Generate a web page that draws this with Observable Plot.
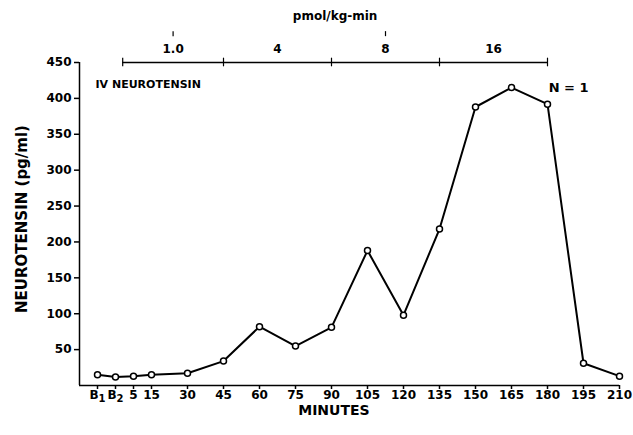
<!DOCTYPE html>
<html><head><meta charset="utf-8">
<script src="https://cdn.jsdelivr.net/npm/d3@7"></script>
<script src="https://cdn.jsdelivr.net/npm/@observablehq/plot@0.6"></script>
<style>body{margin:0;background:#fff}</style>
</head><body><div id="chart"></div>
<script>
const timeLabels = ["B₁","B₂","5","15","30","45","60","75","90","105","120","135","150","165","180","195","210"];
const timePos = [-7.5,0,7.5,15,30,45,60,75,90,105,120,135,150,165,180,195,210];
const neurotensin = [15,12,13,15,17,34,82,55,81,188,98,218,388,415,392,31,13];
const yTicks = [50,100,150,200,250,300,350,400,450];
const doseLabels = ["1.0","4","8","16"];
const doseStart = [3,45,90,135];
const doseEnd = [45,90,135,180];
const doseBounds = [3,45,90,135,180];
const markedDoses = ["1.0","8"];

const data = timePos.map((t,i)=>({t, v: neurotensin[i]}));
const mid = i => (doseStart[i]+doseEnd[i])/2;

const plot = Plot.plot({
  width:633, height:435,
  marginLeft:79, marginRight:14, marginTop:62, marginBottom:50,
  style:{fontFamily:"'DejaVu Sans'", fontWeight:"bold", fontSize:"12px", background:"white", color:"black", overflow:"visible"},
  x:{domain:[-15,210]},
  y:{domain:[0,450]},
  marks:[
    Plot.axisX({ticks: timePos, tickFormat: d => timeLabels[timePos.indexOf(d)], tickSize:4, tickPadding:1, label:null, fontSize:12, strokeWidth:1.5}),
    Plot.axisY({ticks: yTicks, tickSize:5, tickPadding:3, label:null, fontSize:12, strokeWidth:1.5}),
    Plot.ruleY([0], {strokeWidth:1.5}),
    Plot.ruleX([-15], {y1:0, y2:450, strokeWidth:1.5}),
    Plot.text(["MINUTES"], {x:91, frameAnchor:"bottom", lineAnchor:"middle", dy:25, fontSize:14}),
    Plot.text(["NEUROTENSIN (pg/ml)"], {frameAnchor:"left", textAnchor:"middle", lineAnchor:"middle", rotate:-90, dx:-57, dy:-5, fontSize:15}),
    // dose bar
    Plot.ruleY(doseStart, {x1: d=>d, x2: (d,i)=>doseEnd[i], y: 450, strokeWidth:1.5}),
    Plot.ruleX(doseBounds, {x: d=>d, y1: 444, y2: 456, strokeWidth:1.2}),
    Plot.text(doseLabels, {x: (d,i)=>mid(i), y: 450, dy:-13, fontSize:12}),
    Plot.ruleX(markedDoses, {x: d=>mid(doseLabels.indexOf(d)), y1: 486, y2: 493, strokeWidth:1.2}),
    Plot.text(["pmol/kg-min"], {x:91.5, frameAnchor:"top", dy:-51, fontSize:12}),
    Plot.text(["IV NEUROTENSIN"], {frameAnchor:"top-left", dx:16, dy:18, textAnchor:"start", fontSize:11}),
    Plot.text(["N = 1"], {frameAnchor:"top-right", dx:-31, dy:20, textAnchor:"end", fontSize:13}),
    // data
    Plot.line(data, {x:"t", y:"v", strokeWidth:2}),
    Plot.dot(data, {x:"t", y:"v", r:3, fill:"white", stroke:"black", strokeWidth:1.5})
  ]
});
// render subscript digits as lowered tspans
plot.querySelectorAll("text").forEach(t => {
  const m = /^B([₁₂])$/.exec(t.textContent);
  if (m) {
    const digit = m[1] === "₁" ? "1" : "2";
    t.textContent = "B";
    const s = document.createElementNS("http://www.w3.org/2000/svg","tspan");
    s.setAttribute("dy","3");
    s.setAttribute("font-size","10");
    s.textContent = digit;
    t.appendChild(s);
  }
});
document.getElementById("chart").appendChild(plot);
</script>
</body></html>
